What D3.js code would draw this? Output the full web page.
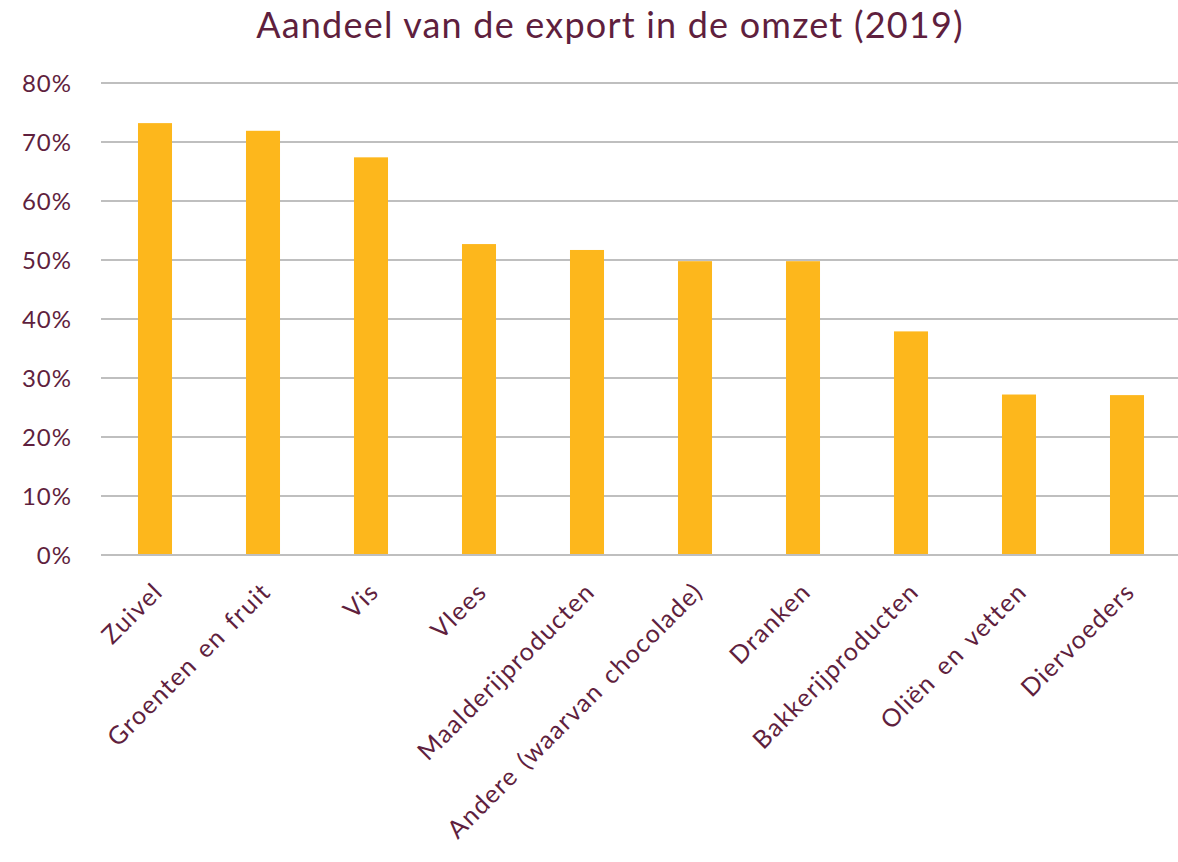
<html>
<head>
<meta charset="utf-8">
<title>Export aandeel</title>
<script src="https://cdn.jsdelivr.net/npm/d3@7"></script>
<style>
body { margin: 0; background: #fff; font-family: 'Lato', 'Open Sans', sans-serif; }
.grid line { stroke: #bfbfbf; stroke-width: 2px; }
.label { fill: #5f1f3e; }
</style>
</head>
<body>
<svg width="1178" height="862"></svg>
<script>
var categories = ["Zuivel", "Groenten en fruit", "Vis", "Vlees", "Maalderijproducten",
  "Andere (waarvan chocolade)", "Dranken", "Bakkerijproducten", "Oliën en vetten", "Diervoeders"];
var shares = [73.2, 71.9, 67.4, 52.7, 51.7, 49.8, 49.8, 37.9, 27.2, 27.1];
var yTicks = [0, 10, 20, 30, 40, 50, 60, 70, 80];

var svg = d3.select("svg");

var x = d3.scaleBand().domain(categories).range([101, 1181]).paddingInner(0.685).paddingOuter(0.3425);
var y = d3.scaleLinear().domain([0, 80]).range([555, 83]);

svg.append("text")
  .attr("class", "label")
  .attr("x", 610).attr("y", 38)
  .attr("text-anchor", "middle")
  .style("font-size", "36px")
  .style("letter-spacing", "1.2px")
  .text("Aandeel van de export in de omzet (2019)");

// gridlines
svg.append("g").attr("class", "grid")
  .selectAll("line").data(yTicks).enter().append("line")
  .attr("x1", 101).attr("x2", 1178)
  .attr("y1", function (d) { return y(d); })
  .attr("y2", function (d) { return y(d); });

// y labels
svg.append("g").selectAll("text").data(yTicks).enter().append("text")
  .attr("class", "label")
  .attr("x", 72)
  .attr("y", function (d) { return y(d); })
  .attr("dy", "0.36em")
  .attr("text-anchor", "end")
  .style("font-size", "24px")
  .style("letter-spacing", "1px")
  .text(function (d) { return d + "%"; });

// bars
svg.append("g").selectAll("rect").data(shares).enter().append("rect")
  .attr("x", function (d, i) { return x(categories[i]); })
  .attr("width", x.bandwidth())
  .attr("y", function (d) { return y(d); })
  .attr("height", function (d) { return y(0) - y(d); })
  .style("fill", "#fdb71c");

// redraw baseline on top of bars
svg.append("line")
  .attr("x1", 101).attr("x2", 1178)
  .attr("y1", y(0)).attr("y2", y(0))
  .style("stroke", "#bfbfbf").style("stroke-width", 2);

// category labels
svg.append("g").selectAll("text").data(categories).enter().append("text")
  .attr("class", "label")
  .attr("text-anchor", "end")
  .attr("transform", function (d) {
    return "translate(" + (x(d) + x.bandwidth() / 2 - 3) + ",581) rotate(-45)";
  })
  .attr("dy", "0.7em")
  .style("font-size", "25px")
  .style("letter-spacing", "1.3px")
  .style("word-spacing", "3px")
  .text(function (d) { return d; });
</script>
</body>
</html>
